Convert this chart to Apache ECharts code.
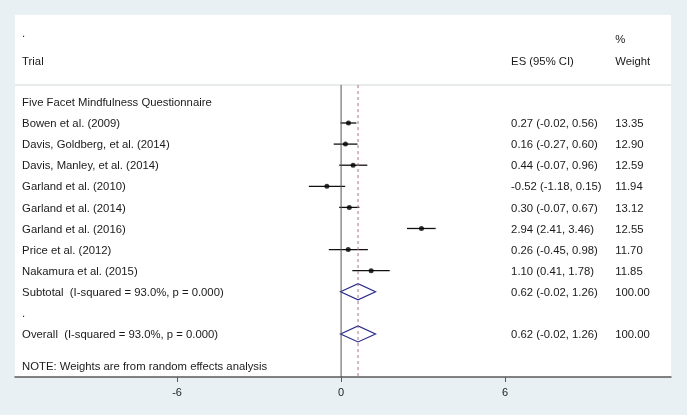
<!DOCTYPE html>
<html>
<head>
<meta charset="utf-8">
<script src="https://cdn.jsdelivr.net/npm/echarts@6/dist/echarts.min.js"></script>
<style>
html, body { margin: 0; padding: 0; background: #e9f0f3; }
#chart { width: 687px; height: 415px; }
</style>
</head>
<body>
<div id="chart"></div>
<script>
var trials = ['Bowen et al. (2009)', 'Davis, Goldberg, et al. (2014)', 'Davis, Manley, et al. (2014)',
	'Garland et al. (2010)', 'Garland et al. (2014)', 'Garland et al. (2016)',
	'Price et al. (2012)', 'Nakamura et al. (2015)'];
var es = [0.27, 0.16, 0.44, -0.52, 0.30, 2.94, 0.26, 1.10];
var lo = [-0.02, -0.27, -0.07, -1.18, -0.07, 2.41, -0.45, 0.41];
var hi = [0.56, 0.60, 0.96, 0.15, 0.67, 3.46, 0.98, 1.78];
var weights = ['13.35', '12.90', '12.59', '11.94', '13.12', '12.55', '11.70', '11.85'];
var pooled = [0.62, -0.02, 1.26];
var pooledLabels = ['Subtotal  (I-squared = 93.0%, p = 0.000)', 'Overall  (I-squared = 93.0%, p = 0.000)'];
var tickValues = [-6, 0, 6];

var font = '"Liberation Sans", Arial, sans-serif';
var colTrial = -11.67, colES = 6.22, colW = 10.03;

// rows: 0 = group title, 1..8 trials, 9 subtotal, 10 '.', 11 overall
var textData = [];
textData.push([colTrial, -3.27, '.']);
textData.push([colTrial, -1.94, 'Trial']);
textData.push([colES, -1.94, 'ES (95% CI)']);
textData.push([colW, -2.97, '%']);
textData.push([colW, -1.94, 'Weight']);
textData.push([colTrial, 0, 'Five Facet Mindfulness Questionnaire']);
for (var i = 0; i < trials.length; i++) {
	var row = i + 1;
	textData.push([colTrial, row, trials[i]]);
	textData.push([colES, row, es[i].toFixed(2) + ' (' + lo[i].toFixed(2) + ', ' + hi[i].toFixed(2) + ')']);
	textData.push([colW, row, weights[i]]);
}
var pooledText = pooled[0].toFixed(2) + ' (' + pooled[1].toFixed(2) + ', ' + pooled[2].toFixed(2) + ')';
textData.push([colTrial, 9, pooledLabels[0]]);
textData.push([colES, 9, pooledText]);
textData.push([colW, 9, '100.00']);
textData.push([colTrial, 10, '.']);
textData.push([colTrial, 11, pooledLabels[1]]);
textData.push([colES, 11, pooledText]);
textData.push([colW, 11, '100.00']);
textData.push([colTrial, 12.52, 'NOTE: Weights are from random effects analysis']);

var ciData = [], pointData = [];
for (var j = 0; j < es.length; j++) {
	ciData.push([lo[j], hi[j], j + 1]);
	pointData.push([es[j], j + 1]);
}
var diamondData = [[pooled[0], pooled[1], pooled[2], 9], [pooled[0], pooled[1], pooled[2], 11]];

var xMin = -11.93, xMax = 12.07;
var yMin = -4.12, yMax = 13.04, ySep = -0.8;

var chart = echarts.init(document.getElementById('chart'));
chart.setOption({
	backgroundColor: '#e9f0f3',
	animation: false,
	grid: { left: 15, right: 16, top: 15, bottom: 38, show: true, backgroundColor: '#ffffff', borderWidth: 0 },
	xAxis: {
		type: 'value', min: xMin, max: xMax,
		splitLine: { show: false },
		axisLine: { show: true, onZero: false, lineStyle: { color: '#5a5a5a', width: 1.5 } },
		axisTick: { show: true, length: 5, customValues: tickValues, lineStyle: { color: '#5a5a5a' } },
		axisLabel: { customValues: tickValues, color: '#222', fontSize: 11, fontFamily: font, margin: 10 }
	},
	yAxis: {
		type: 'value', min: yMin, max: yMax, inverse: true, show: false
	},
	series: [
		{
			// header separator
			type: 'line', data: [[xMin, ySep], [xMax, ySep]], symbol: 'none', silent: true,
			lineStyle: { color: '#dfe4e6', width: 1.5 }
		},
		{
			// null line
			type: 'line', data: [[0, ySep], [0, yMax]], symbol: 'none', silent: true,
			lineStyle: { color: '#555', width: 1 }
		},
		{
			// overall effect line
			type: 'line', data: [[pooled[0], ySep], [pooled[0], yMax]], symbol: 'none', silent: true,
			lineStyle: { color: '#b07080', width: 1, type: [3, 3] }
		},
		{
			type: 'custom', data: ciData, silent: true,
			renderItem: function (params, api) {
				var a = api.coord([api.value(0), api.value(2)]);
				var b = api.coord([api.value(1), api.value(2)]);
				return { type: 'line', shape: { x1: a[0], y1: a[1], x2: b[0], y2: b[1] },
					style: { stroke: '#111', lineWidth: 1.3 } };
			}
		},
		{
			type: 'scatter', data: pointData, symbol: 'circle', symbolSize: 5, silent: true,
			itemStyle: { color: '#000' }
		},
		{
			type: 'custom', data: diamondData, silent: true,
			renderItem: function (params, api) {
				var y = api.value(3);
				var c = api.coord([api.value(0), y]);
				var l = api.coord([api.value(1), y]);
				var r = api.coord([api.value(2), y]);
				var h = 8;
				return { type: 'polygon', shape: { points: [[l[0], c[1]], [c[0], c[1] - h], [r[0], c[1]], [c[0], c[1] + h]] },
					style: { fill: 'none', stroke: '#2b2b8a', lineWidth: 1.2 } };
			}
		},
		{
			type: 'custom', data: textData, silent: true,
			renderItem: function (params, api) {
				var p = api.coord([api.value(0), api.value(1)]);
				return { type: 'text', x: p[0], y: p[1] + 1,
					style: { text: textData[params.dataIndex][2], fill: '#1a1a1a', font: '11.3px ' + font,
						textAlign: 'left', textVerticalAlign: 'middle' } };
			}
		}
	]
});
</script>
</body>
</html>
